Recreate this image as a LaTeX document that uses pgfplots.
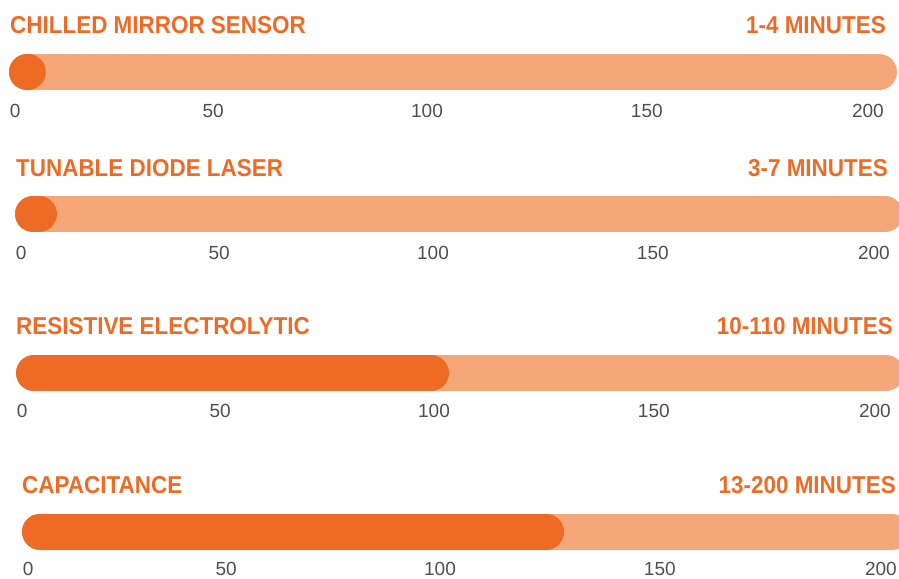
\documentclass[border=0pt]{standalone}
\usepackage{fontspec}
\setmainfont{Liberation Sans}
\newfontfamily\titlefont[FakeStretch=0.92]{Liberation Sans}
\usepackage{pgfplots}
\pgfplotsset{compat=1.18}
\definecolor{darkor}{HTML}{EE6B26}
\definecolor{lightor}{HTML}{F6A77A}
\definecolor{ticklab}{HTML}{4F4F4F}
% 1 data unit = 4.26pt; axis runs from -5 to 200
\pgfplotsset{
  panel/.style={
    scale only axis, width=873.3pt, height=36pt,
    xmin=-5, xmax=200, ymin=-1, ymax=1,
    clip=false,
    axis line style={draw=none},
    tick style={draw=none},
    ytick=\empty,
    xtick={-2.8,43.7,93.9,145.5,197.4},
    xticklabels={0,50,100,150,200},
    xticklabel style={anchor=base, inner sep=0pt, font=\fontsize{19}{22}\selectfont, text=ticklab},
  },
  track/.style={lightor, line width=36pt, line cap=round, no markers},
  fill/.style={darkor, line width=36pt, line cap=round, no markers},
}
\newcommand{\ttl}{\titlefont\bfseries\fontsize{24.4}{28}\selectfont}
\begin{document}
\begin{tikzpicture}
\useasboundingbox (0,0) rectangle (899pt,-578pt);
% Panel 1
\begin{axis}[panel, at={(5.7pt,-90pt)}, anchor=south west, xticklabel style={yshift=-27pt}]
\addplot[track] coordinates {(0,0) (200,0)};
\addplot[fill] coordinates {(0,0) (0.2,0)};
\end{axis}
\node[anchor=base west, inner sep=0pt, text=darkor] at (10pt,-34pt) {\ttl CHILLED MIRROR SENSOR};
\node[anchor=base east, inner sep=0pt, text=darkor] at (886pt,-34pt) {\ttl 1-4 MINUTES};
% Panel 2
\begin{axis}[panel, at={(11.7pt,-232pt)}, anchor=south west, xticklabel style={yshift=-27pt}]
\addplot[track] coordinates {(0,0) (200,0)};
\addplot[fill] coordinates {(0,0) (1.4,0)};
\end{axis}
\node[anchor=base west, inner sep=0pt, text=darkor] at (16pt,-176pt) {\ttl TUNABLE DIODE LASER};
\node[anchor=base east, inner sep=0pt, text=darkor] at (888pt,-176pt) {\ttl 3-7 MINUTES};
% Panel 3
\begin{axis}[panel, at={(12.7pt,-391pt)}, anchor=south west, xticklabel style={yshift=-26.5pt}]
\addplot[track] coordinates {(0,0) (200,0)};
\addplot[fill] coordinates {(0,0) (93.2,0)};
\end{axis}
\node[anchor=base west, inner sep=0pt, text=darkor] at (16pt,-334pt) {\ttl RESISTIVE ELECTROLYTIC};
\node[anchor=base east, inner sep=0pt, text=darkor] at (893pt,-334pt) {\ttl 10-110 MINUTES};
% Panel 4
\begin{axis}[panel, at={(18.7pt,-549.5pt)}, anchor=south west, xticklabel style={yshift=-25.5pt}]
\addplot[track] coordinates {(0,0) (200,0)};
\addplot[fill] coordinates {(0,0) (118.8,0)};
\end{axis}
\node[anchor=base west, inner sep=0pt, text=darkor] at (22pt,-493pt) {\ttl CAPACITANCE};
\node[anchor=base east, inner sep=0pt, text=darkor] at (896pt,-493pt) {\ttl 13-200 MINUTES};
\end{tikzpicture}
\end{document}
